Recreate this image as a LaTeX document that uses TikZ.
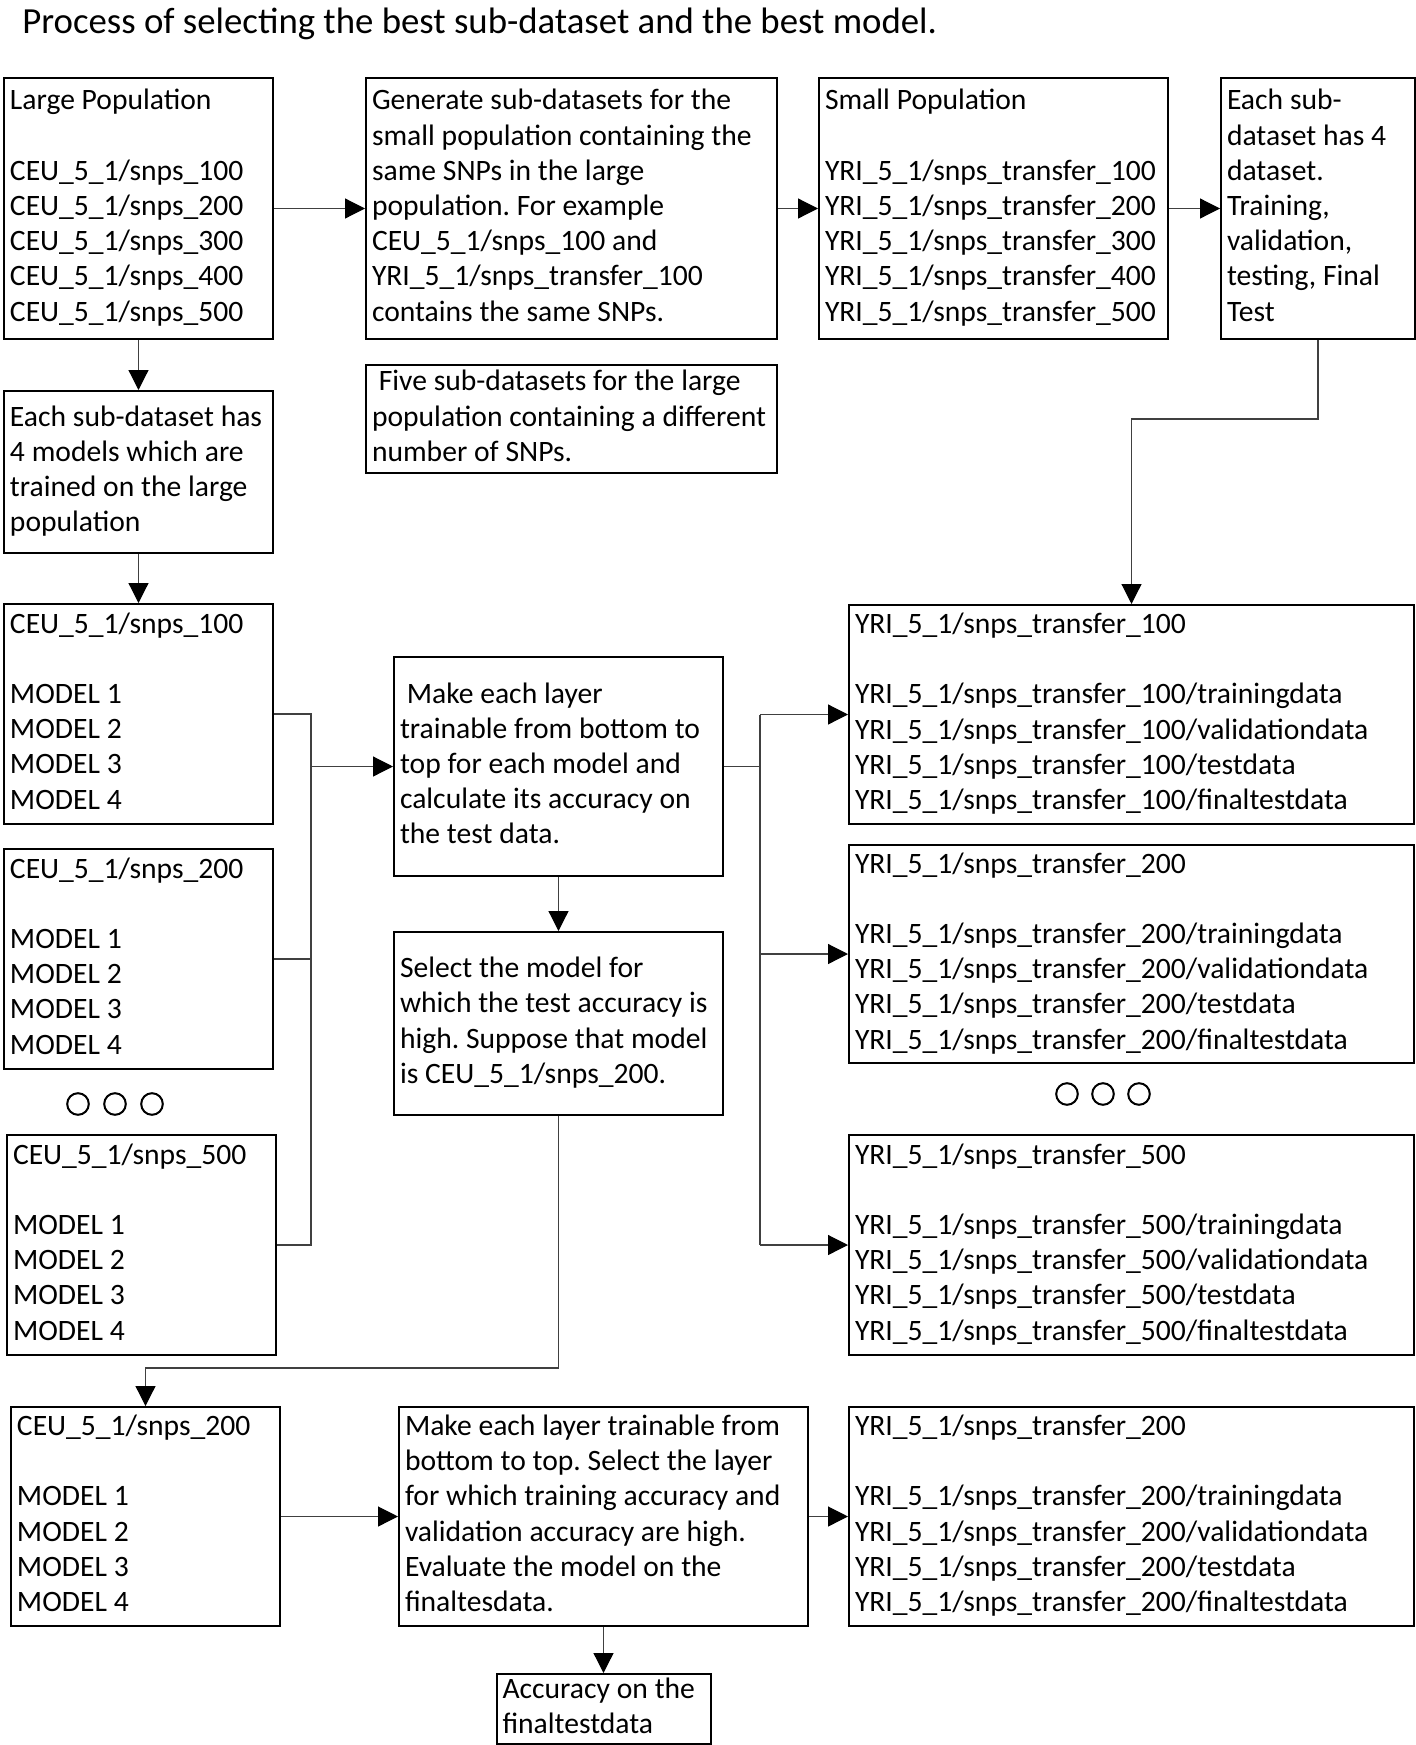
\documentclass[tikz,border=0pt]{standalone}
\usepackage{fontspec}
\setmainfont{Carlito}
\usetikzlibrary{arrows.meta}
\frenchspacing
\newcommand{\rows}[1]{\spaceskip=3.4pt\relax\begin{tabular}{@{}l@{}}#1\end{tabular}}

\begin{document}
\begin{tikzpicture}[x=0.5pt,y=-0.5pt,>={Triangle[length=10pt,width=10pt,color=black]},
  blk/.style={draw,line width=1pt,anchor=north west,align=left,inner xsep=3pt,inner ysep=0pt,
    font=\fontsize{14.8pt}{17.6pt}\selectfont},
  link/.style={draw=black!75,line width=0.6pt}]
  \useasboundingbox (0,0) rectangle (1416,1745);
  \node[anchor=base west,inner sep=0pt,font=\fontsize{18.4pt}{21pt}\selectfont] (title) at (22,33)
    {Process of selecting the best sub-dataset and the best model.};

  % top row
  \node[blk,text width=128.5pt,minimum height=130.5pt] (lp) at (3,77)
    {\rows{Large Population\\[17.6pt]
     CEU\_5\_1/snps\_100\\CEU\_5\_1/snps\_200\\CEU\_5\_1/snps\_300\\CEU\_5\_1/snps\_400\\CEU\_5\_1/snps\_500}};
  \node[blk,text width=199.5pt,minimum height=130.5pt] (gen) at (365,77)
    {\rows{Generate sub-datasets for the\\small population containing the\\same SNPs in the large\\population. For example\\
     CEU\_5\_1/snps\_100 and\\YRI\_5\_1/snps\_transfer\_100\\contains the same SNPs.}};
  \node[blk,text width=168.5pt,minimum height=130.5pt] (sp) at (818,77)
    {\rows{Small Population\\[17.6pt]
     YRI\_5\_1/snps\_transfer\_100\\YRI\_5\_1/snps\_transfer\_200\\YRI\_5\_1/snps\_transfer\_300\\
     YRI\_5\_1/snps\_transfer\_400\\YRI\_5\_1/snps\_transfer\_500}};
  \node[blk,text width=91pt,minimum height=130.5pt] (each) at (1220,77)
    {\rows{Each sub-\\dataset has 4\\dataset.\\Training,\\validation,\\testing, Final\\Test}};
  \node[blk,text width=199.5pt,minimum height=54pt] (five) at (365,364)
    {\rows{~Five sub-datasets for the large\\population containing a different\\number of SNPs.}};
  \node[blk,text width=128.5pt,minimum height=81pt] (esd) at (3,390)
    {\rows{Each sub-dataset has\\4 models which are\\trained on the large\\population}};

  % large population models
  \node[blk,text width=128.5pt,minimum height=110pt] (ceu100) at (3,603)
    {\rows{CEU\_5\_1/snps\_100\\[17.6pt]MODEL 1\\MODEL 2\\MODEL 3\\MODEL 4}};
  \node[blk,text width=128.5pt,minimum height=110pt] (ceu200) at (3,848)
    {\rows{CEU\_5\_1/snps\_200\\[17.6pt]MODEL 1\\MODEL 2\\MODEL 3\\MODEL 4}};
  \node[blk,text width=128.5pt,minimum height=110pt] (ceu500) at (6,1134)
    {\rows{CEU\_5\_1/snps\_500\\[17.6pt]MODEL 1\\MODEL 2\\MODEL 3\\MODEL 4}};
  \draw[line width=1pt] (78,1104) circle[radius=5.4pt] (115,1104) circle[radius=5.4pt]
    (152,1104) circle[radius=5.4pt];

  % middle column
  \node[blk,text width=158.5pt,minimum height=109.5pt] (make) at (393,656)
    {\rows{~Make each layer\\trainable from bottom to\\top for each model and\\calculate its accuracy on\\the test data.}};
  \node[blk,text width=158.5pt,minimum height=91.5pt] (sel) at (393,931)
    {\rows{Select the model for\\which the test accuracy is\\high. Suppose that model\\is CEU\_5\_1/snps\_200.}};

  % small population data
  \node[blk,text width=276.5pt,minimum height=109.5pt] (yri100) at (848,604)
    {\rows{YRI\_5\_1/snps\_transfer\_100\\[17.6pt]
     YRI\_5\_1/snps\_transfer\_100/trainingdata\\YRI\_5\_1/snps\_transfer\_100/validationdata\\
     YRI\_5\_1/snps\_transfer\_100/testdata\\YRI\_5\_1/snps\_transfer\_100/finaltestdata}};
  \node[blk,text width=276.5pt,minimum height=109pt] (yri200) at (848,844)
    {\rows{YRI\_5\_1/snps\_transfer\_200\\[17.6pt]
     YRI\_5\_1/snps\_transfer\_200/trainingdata\\YRI\_5\_1/snps\_transfer\_200/validationdata\\
     YRI\_5\_1/snps\_transfer\_200/testdata\\YRI\_5\_1/snps\_transfer\_200/finaltestdata}};
  \node[blk,text width=276.5pt,minimum height=110pt] (yri500) at (848,1134)
    {\rows{YRI\_5\_1/snps\_transfer\_500\\[17.6pt]
     YRI\_5\_1/snps\_transfer\_500/trainingdata\\YRI\_5\_1/snps\_transfer\_500/validationdata\\
     YRI\_5\_1/snps\_transfer\_500/testdata\\YRI\_5\_1/snps\_transfer\_500/finaltestdata}};
  \draw[line width=1pt] (1067,1094) circle[radius=5.4pt] (1103,1094) circle[radius=5.4pt]
    (1139,1094) circle[radius=5.4pt];

  % bottom row
  \node[blk,text width=128.5pt,minimum height=109.5pt] (best) at (10,1406)
    {\rows{CEU\_5\_1/snps\_200\\[17.6pt]MODEL 1\\MODEL 2\\MODEL 3\\MODEL 4}};
  \node[blk,text width=198.5pt,minimum height=109.5pt] (eval) at (398,1406)
    {\rows{Make each layer trainable from\\bottom to top. Select the layer\\for which training accuracy and\\
     validation accuracy are high.\\Evaluate the model on the\\finaltesdata.}};
  \node[blk,text width=276.5pt,minimum height=109.5pt] (yribest) at (848,1406)
    {\rows{YRI\_5\_1/snps\_transfer\_200\\[17.6pt]
     YRI\_5\_1/snps\_transfer\_200/trainingdata\\YRI\_5\_1/snps\_transfer\_200/validationdata\\
     YRI\_5\_1/snps\_transfer\_200/testdata\\YRI\_5\_1/snps\_transfer\_200/finaltestdata}};
  \node[blk,text width=101pt,minimum height=34.5pt] (acc) at (495.5,1673)
    {\rows{Accuracy on the\\finaltestdata}};

  % connectors
  \coordinate (lbus) at (311,766);
  \coordinate (rbus) at (760,766);
  \draw[link,->] (lp) -- (gen);
  \draw[link,->] (gen) -- (sp);
  \draw[link,->] (sp) -- (each);
  \draw[link,->] (lp) -- (esd);
  \draw[link,->] (esd) -- (ceu100);
  \draw[link,->] (each.south) -- ++(0,79) -| (yri100.north);
  \draw[link] (ceu100.east) -| (lbus |- ceu500.east) -- (ceu500.east);
  \draw[link] (ceu200.east) -- (lbus |- ceu200.east);
  \draw[link,->] (lbus |- make.west) -- (make.west);
  \draw[link] (make.east) -- (rbus |- make.east);
  \draw[link] (rbus |- yri100.west) -- (rbus |- yri500.west);
  \draw[link,->] (rbus |- yri100.west) -- (yri100.west);
  \draw[link,->] (rbus |- yri200.west) -- (yri200.west);
  \draw[link,->] (rbus |- yri500.west) -- (yri500.west);
  \draw[link,->] (make) -- (sel);
  \draw[link,->] (sel.south) -- ++(0,252) -| (best.north);
  \draw[link,->] (best) -- (eval);
  \draw[link,->] (eval) -- (yribest);
  \draw[link,->] (eval) -- (acc);
\end{tikzpicture}
\end{document}
